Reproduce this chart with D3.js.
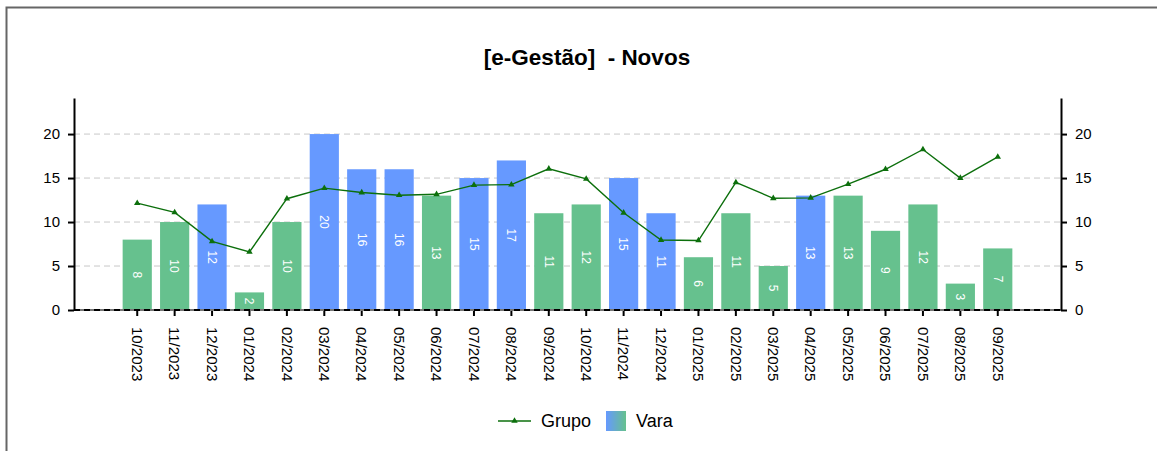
<!DOCTYPE html>
<html>
<head>
<meta charset="utf-8">
<script src="https://cdn.jsdelivr.net/npm/d3@7"></script>
<style>
  body { margin: 0; background: #fff; }
  svg { display: block; font-family: Arial, "Liberation Sans", sans-serif; }
</style>
</head>
<body>
<script>
const width = 1157, height = 451;
const margin = { top: 98, right: 96, bottom: 141, left: 74 };

// data
const months = ['10/2023','11/2023','12/2023','01/2024','02/2024','03/2024','04/2024','05/2024',
  '06/2024','07/2024','08/2024','09/2024','10/2024','11/2024','12/2024','01/2025','02/2025',
  '03/2025','04/2025','05/2025','06/2025','07/2025','08/2025','09/2025'];
const vara = [8,10,12,2,10,20,16,16,13,15,17,11,12,15,11,6,11,5,13,13,9,12,3,7];
const varaAbove = [0,0,1,0,0,1,1,1,0,1,1,0,0,1,1,0,0,0,1,0,0,0,0,0]; // 1 = blue bar
const grupo = [12.15,11.1,7.8,6.6,12.65,13.85,13.35,13.05,13.15,14.2,14.25,16.05,
  14.9,11.05,7.95,7.9,14.5,12.7,12.75,14.3,16.0,18.25,15.0,17.4];
const yTicks = [0,5,10,15,20];

const blue = '#6699ff', green = '#66c18e', lineColor = '#0c6f0c';

const svg = d3.select('body').append('svg')
    .attr('width', width)
    .attr('height', height);

// outer frame (only top and left edges visible)
svg.append('rect')
    .attr('x', 6.5).attr('y', 7.5)
    .attr('width', width + 20).attr('height', height + 20)
    .attr('fill', 'none')
    .attr('stroke', '#666')
    .attr('stroke-width', 2);

svg.append('text')
    .attr('x', 587).attr('y', 65)
    .attr('text-anchor', 'middle')
    .attr('font-size', 22.5)
    .attr('font-weight', 'bold')
    .style('white-space', 'pre')
    .text('[e-Gestão]  - Novos');

const x0 = margin.left, x1 = width - margin.right;
const yBase = height - margin.bottom;

const xScale = d3.scaleBand()
    .domain(months)
    .range([x0, x1])
    .paddingInner(0.22)
    .paddingOuter(1.3);

const yScale = d3.scaleLinear()
    .domain([0, 24.1])
    .range([yBase, margin.top]);

// gridlines
svg.append('g')
  .selectAll('line')
  .data(yTicks.filter(d => d > 0))
  .enter().append('line')
    .attr('x1', x0).attr('x2', x1)
    .attr('y1', d => yScale(d)).attr('y2', d => yScale(d))
    .attr('stroke', '#c8c8c8')
    .attr('stroke-dasharray', '6,4');

// bars
svg.append('g')
  .selectAll('rect')
  .data(vara)
  .enter().append('rect')
    .attr('x', (d, i) => xScale(months[i]))
    .attr('y', d => yScale(d))
    .attr('width', xScale.bandwidth())
    .attr('height', d => yBase - yScale(d))
    .attr('fill', (d, i) => varaAbove[i] ? blue : green);

// bar labels, rotated
svg.append('g')
  .selectAll('text')
  .data(vara)
  .enter().append('text')
    .attr('transform', (d, i) => {
      const cx = xScale(months[i]) + xScale.bandwidth() / 2;
      const cy = (yScale(d) + yBase) / 2;
      return `translate(${cx},${cy}) rotate(90)`;
    })
    .attr('text-anchor', 'middle')
    .attr('dy', '0.35em')
    .attr('font-size', 12)
    .attr('fill', '#fff')
    .text(d => d);

// baseline: gray with black dashes
svg.append('line')
    .attr('x1', x0).attr('x2', x1)
    .attr('y1', yBase).attr('y2', yBase)
    .attr('stroke', '#777').attr('stroke-width', 2);
svg.append('line')
    .attr('x1', x0).attr('x2', x1)
    .attr('y1', yBase).attr('y2', yBase)
    .attr('stroke', '#000').attr('stroke-width', 2)
    .attr('stroke-dasharray', '6,4');

// x axis ticks and labels
const xAxis = svg.append('g');
xAxis.selectAll('line')
  .data(months)
  .enter().append('line')
    .attr('x1', d => xScale(d) + xScale.bandwidth() / 2)
    .attr('x2', d => xScale(d) + xScale.bandwidth() / 2)
    .attr('y1', yBase + 1).attr('y2', yBase + 6)
    .attr('stroke', '#000').attr('stroke-width', 2);
xAxis.selectAll('text')
  .data(months)
  .enter().append('text')
    .attr('transform', d => `translate(${xScale(d) + xScale.bandwidth() / 2},${yBase + 17}) rotate(90)`)
    .attr('dy', '0.35em')
    .attr('font-size', 15)
    .text(d => d);

// left and right axes
const leftAxis = d3.axisLeft(yScale).tickValues(yTicks).tickSize(6).tickSizeOuter(0).tickPadding(8);
const rightAxis = d3.axisRight(yScale).tickValues(yTicks).tickSize(6).tickSizeOuter(0).tickPadding(8);

[[leftAxis, x0], [rightAxis, x1]].forEach(([ax, xp]) => {
  const g = svg.append('g')
      .attr('transform', `translate(${xp},0)`)
      .call(ax);
  g.select('.domain').attr('stroke', '#000').attr('stroke-width', 2);
  g.selectAll('.tick line').attr('stroke', '#000').attr('stroke-width', 2);
  g.selectAll('.tick text').attr('font-size', 15).attr('fill', '#000')
      .attr('font-family', 'Arial, "Liberation Sans", sans-serif');
});

// Grupo line
const line = d3.line()
    .x((d, i) => xScale(months[i]) + xScale.bandwidth() / 2)
    .y(d => yScale(d));
svg.append('path')
    .datum(grupo)
    .attr('d', line)
    .attr('fill', 'none')
    .attr('stroke', lineColor)
    .attr('stroke-width', 1.4);

const tri = d3.symbol().type(d3.symbolTriangle).size(18);
svg.append('g')
  .selectAll('path')
  .data(grupo)
  .enter().append('path')
    .attr('transform', (d, i) => `translate(${xScale(months[i]) + xScale.bandwidth() / 2},${yScale(d)})`)
    .attr('d', tri)
    .attr('fill', lineColor);

// legend
const defs = svg.append('defs');
const grad = defs.append('linearGradient').attr('id', 'varaGrad');
grad.append('stop').attr('offset', '0%').attr('stop-color', blue);
grad.append('stop').attr('offset', '100%').attr('stop-color', green);

const legend = svg.append('g').attr('transform', 'translate(0,421)');
legend.append('line')
    .attr('x1', 498).attr('x2', 531)
    .attr('stroke', lineColor).attr('stroke-width', 1.4);
legend.append('path')
    .attr('transform', 'translate(514.5,0)')
    .attr('d', tri)
    .attr('fill', lineColor);
legend.append('text')
    .attr('x', 541).attr('dy', '0.35em')
    .attr('font-size', 18)
    .text('Grupo');
legend.append('rect')
    .attr('x', 606).attr('y', -10)
    .attr('width', 20).attr('height', 20)
    .attr('fill', 'url(#varaGrad)');
legend.append('text')
    .attr('x', 636).attr('dy', '0.35em')
    .attr('font-size', 18)
    .text('Vara');
</script>
</body>
</html>
